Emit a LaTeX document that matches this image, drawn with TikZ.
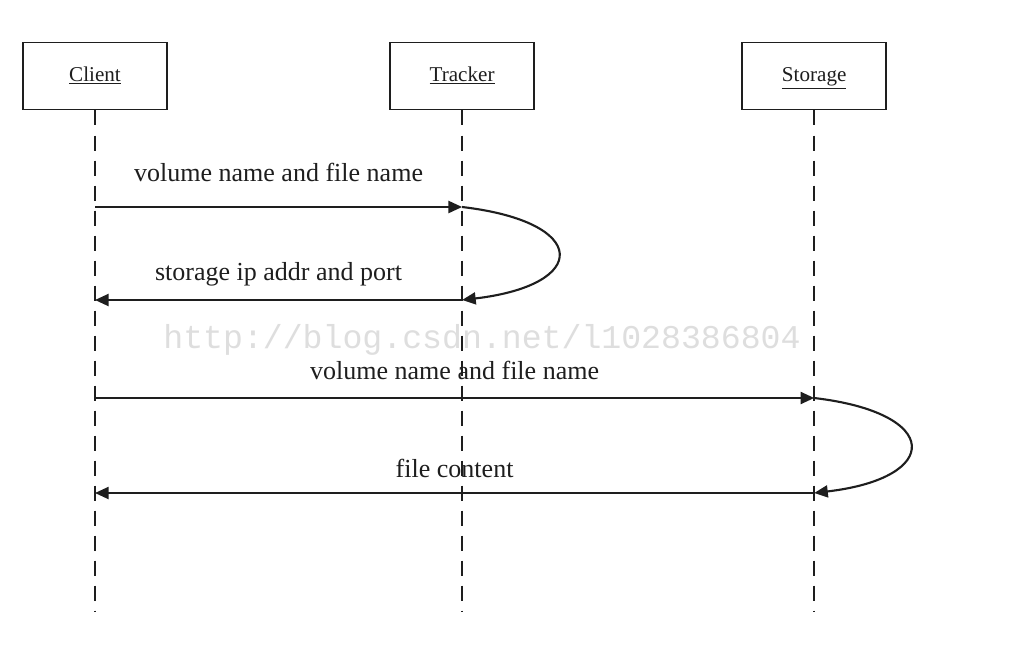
\documentclass[tikz,border=0pt]{standalone}
\usepackage{fontspec}
\setmainfont{Liberation Serif}
\newfontfamily\markfont{Liberation Mono}
\usetikzlibrary{arrows.meta, positioning}
\definecolor{inkgray}{HTML}{1E1E1E}
\tikzstyle{lifebox} = [rectangle, minimum width=3.6cm, minimum height=1.675cm, draw=inkgray, line width=1.4pt, font=\fontsize{15}{18}\selectfont, text=inkgray, text height=2.5ex, text depth=0.8ex]
\tikzstyle{lifeline} = [draw=inkgray, line width=1.4pt, dash pattern=on 0.375cm off 0.25cm]
\tikzstyle{msg} = [draw=inkgray, line width=1.5pt, -{Triangle[length=0.34cm, width=0.3cm]}]
\tikzstyle{msglabel} = [font=\fontsize{18.5}{22}\selectfont, text=inkgray, inner sep=0pt]

\begin{document}
\begin{tikzpicture}[x=0.025cm, y=-0.025cm]
\useasboundingbox[fill=white] (0,0) rectangle (1030,644);

% Teilnehmer
\node[lifebox] (client) at (95,76) {\underline{Client}};
\node[lifebox, right of=client, node distance=9.175cm] (tracker) {\underline{Tracker}};
\node[lifebox, right of=tracker, node distance=8.8cm] (storage) {\underline{Storage}};

% Lebenslinien
\coordinate (clientend) at (client |- 0,611);
\coordinate (trackerend) at (tracker |- 0,611);
\coordinate (storageend) at (storage |- 0,611);
\draw[lifeline] (client.south) -- (clientend);
\draw[lifeline] (tracker.south) -- (trackerend);
\draw[lifeline] (storage.south) -- (storageend);

% Wasserzeichen
\node[font=\markfont\fontsize{23.6}{25}\selectfont, text=black!13, inner sep=0pt] (watermark) at (482,340) {http://blog.csdn.net/l1028386804};

% Nachrichten
\coordinate (c1) at (client |- 0,207);
\coordinate (t1) at (tracker |- 0,207);
\coordinate (t2) at (tracker |- 0,300);
\coordinate (c2) at (client |- 0,300);
\coordinate (c3) at (client |- 0,398);
\coordinate (s3) at (storage |- 0,398);
\coordinate (s4) at (storage |- 0,493);
\coordinate (c4) at (client |- 0,493);

\draw[msg] (c1) -- node[msglabel, above=0.6cm] {volume name and file name} (t1);
\draw[msg] (t1) .. controls +(128,15) and +(128,-15) .. (t2);
\draw[msg] (t2) -- node[msglabel, above=0.33cm] {storage ip addr and port} (c2);
\draw[msg] (c3) -- node[msglabel, above=0.44cm] {volume name and file name} (s3);
\draw[msg] (s3) .. controls +(128,15) and +(128,-15) .. (s4);
\draw[msg] (s4) -- node[msglabel, above=0.35cm] {file content} (c4);

\end{tikzpicture}
\end{document}
